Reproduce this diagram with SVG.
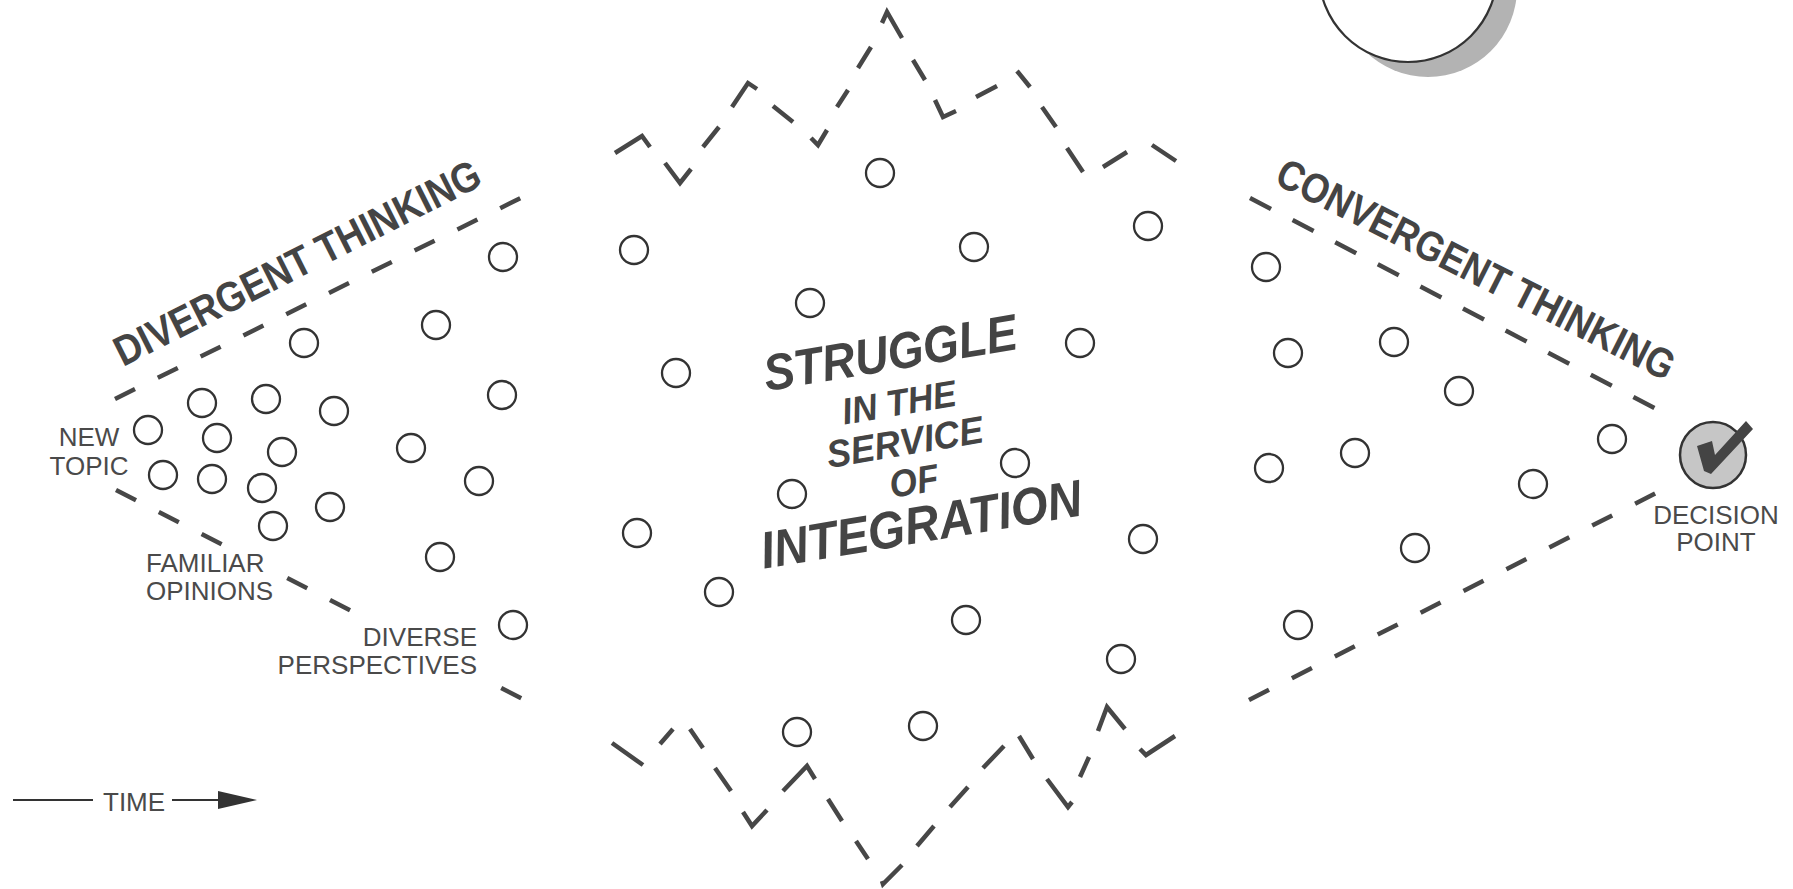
<svg xmlns="http://www.w3.org/2000/svg" width="1793" height="889" viewBox="0 0 1793 889">
<style>
.dash{fill:none;stroke:#474747;stroke-width:4.5;stroke-linecap:butt;stroke-linejoin:miter}
.idea{fill:none;stroke:#333;stroke-width:2.3}
.lbl{font-family:"Liberation Sans",Arial,Helvetica,sans-serif;font-size:26px;fill:#4a4a4a}
.big{font-family:"Liberation Sans",Arial,Helvetica,sans-serif;font-weight:bold;fill:#444}
.ctr{font-style:italic;text-anchor:middle}
</style>
<rect width="1793" height="889" fill="#fff"/>
<g id="moon">
<circle cx="1428" cy="-12" r="89" fill="#b3b3b3"/>
<circle cx="1408" cy="-27" r="89" fill="#fff" stroke="#333" stroke-width="2.2"/>
</g>
<g id="connectors">
<path id="divergent-upper" class="dash" d="M115,399L135,389.1M157.8,377.8L177.8,367.9M200.6,356.6L220.6,346.7M243.4,335.4L263.4,325.5M286.2,314.2L306.2,304.3M329,293L349,283.1M371.8,271.8L391.8,261.9M414.6,250.6L434.6,240.7M457.4,229.4L477.4,219.5M500.2,208.2L520.2,198.3"/>
<path id="divergent-lower" class="dash" d="M116,490L136,500.3M158.8,512L178.8,522.3M201.6,534L221.6,544.3M287.2,578L307.2,588.3M330,600L350,610.3M501.2,688L521.2,698.3"/>
<path id="convergent-upper" class="dash" d="M1250,198L1271,209M1292.6,220.1L1313.6,231.1M1335.2,242.2L1356.2,253.2M1377.8,264.3L1398.8,275.3M1420.4,286.4L1441.4,297.4M1463,308.5L1484,319.5M1505.6,330.6L1526.6,341.6M1548.2,352.7L1569.2,363.7M1590.8,374.8L1611.8,385.8M1633.4,396.9L1654.4,407.9"/>
<path id="convergent-lower" class="dash" d="M1249,700L1269,689.8M1291.9,678.2L1311.9,668M1334.8,656.4L1354.8,646.2M1377.7,634.6L1397.7,624.4M1420.6,612.8L1440.6,602.6M1463.5,591L1483.5,580.8M1506.4,569.2L1526.4,559M1549.3,547.4L1569.3,537.2M1592.2,525.6L1612.2,515.4M1635.1,503.8L1655.1,493.6"/>
<path id="struggle-top" class="dash" d="M615,153L642,136L650,147M665,163L680,183L691,169M703,147L719,127M732,107L748,83L757,89M773,106L793,122M811,138L818,145L827,130M837,107L848,90M858,68L871,47M882,23L887,12L902,38M913,60L925,80M935,100L943,117L956,111M976,97L997,86M1017,71L1030,87M1042,107L1056,127M1067,148L1083,172M1103,167L1127,152M1152,145L1176,161"/>
<path id="struggle-bottom" class="dash" d="M612,743L643,765M660,744L673,729M690,729L703,748M715,768L731,791M743,812L752,826L767,810M783,791L807,766L815,779M828,799L842,821M856,841L868,859M882,881L883,884L902,865M917,846L934,826M950,807L968,787M983,768L1004,746M1019,736L1033,759M1047,779L1068,807L1072,802M1080,777L1089,757M1098,731L1107,707L1125,729M1140,749L1146,755L1175,736"/>
</g>
<g id="ideas">
<circle class="idea" cx="148" cy="430" r="14"/>
<circle class="idea" cx="202" cy="403" r="14"/>
<circle class="idea" cx="266" cy="399" r="14"/>
<circle class="idea" cx="334" cy="411" r="14"/>
<circle class="idea" cx="217" cy="438" r="14"/>
<circle class="idea" cx="282" cy="452" r="14"/>
<circle class="idea" cx="163" cy="475" r="14"/>
<circle class="idea" cx="212" cy="479" r="14"/>
<circle class="idea" cx="262" cy="488" r="14"/>
<circle class="idea" cx="330" cy="507" r="14"/>
<circle class="idea" cx="273" cy="526" r="14"/>
<circle class="idea" cx="304" cy="343" r="14"/>
<circle class="idea" cx="436" cy="325" r="14"/>
<circle class="idea" cx="503" cy="257" r="14"/>
<circle class="idea" cx="502" cy="395" r="14"/>
<circle class="idea" cx="411" cy="448" r="14"/>
<circle class="idea" cx="479" cy="481" r="14"/>
<circle class="idea" cx="440" cy="557" r="14"/>
<circle class="idea" cx="513" cy="625" r="14"/>
<circle class="idea" cx="634" cy="250" r="14"/>
<circle class="idea" cx="880" cy="173" r="14"/>
<circle class="idea" cx="974" cy="247" r="14"/>
<circle class="idea" cx="1148" cy="226" r="14"/>
<circle class="idea" cx="810" cy="303" r="14"/>
<circle class="idea" cx="1080" cy="343" r="14"/>
<circle class="idea" cx="676" cy="373" r="14"/>
<circle class="idea" cx="1015" cy="463" r="14"/>
<circle class="idea" cx="792" cy="494" r="14"/>
<circle class="idea" cx="637" cy="533" r="14"/>
<circle class="idea" cx="1143" cy="539" r="14"/>
<circle class="idea" cx="719" cy="592" r="14"/>
<circle class="idea" cx="966" cy="620" r="14"/>
<circle class="idea" cx="1121" cy="659" r="14"/>
<circle class="idea" cx="797" cy="732" r="14"/>
<circle class="idea" cx="923" cy="726" r="14"/>
<circle class="idea" cx="1266" cy="267" r="14"/>
<circle class="idea" cx="1288" cy="353" r="14"/>
<circle class="idea" cx="1394" cy="342" r="14"/>
<circle class="idea" cx="1459" cy="391" r="14"/>
<circle class="idea" cx="1269" cy="468" r="14"/>
<circle class="idea" cx="1355" cy="453" r="14"/>
<circle class="idea" cx="1533" cy="484" r="14"/>
<circle class="idea" cx="1612" cy="439" r="14"/>
<circle class="idea" cx="1415" cy="548" r="14"/>
<circle class="idea" cx="1298" cy="625" r="14"/>
</g>
<g id="decision-point">
<circle cx="1713" cy="455" r="33" fill="#c6c6c6" stroke="#333" stroke-width="2.5"/>
<polygon points="1697,446 1712,441 1715,455 1746,421 1753,429 1711,474 1704,471" fill="#444"/>
<text class="lbl" x="1716" y="524" text-anchor="middle" font-size="24">DECISION</text>
<text class="lbl" x="1716" y="551" text-anchor="middle" font-size="24">POINT</text>
</g>
<g id="divergent-label">
<text class="big" font-size="42" x="123" y="367" textLength="405" lengthAdjust="spacingAndGlyphs" transform="rotate(-26.8 123 367)">DIVERGENT THINKING</text>
</g>
<g id="convergent-label">
<text class="big" font-size="42" x="1273" y="183" textLength="440" lengthAdjust="spacingAndGlyphs" transform="rotate(26.8 1273 183)">CONVERGENT THINKING</text>
</g>
<g id="struggle-label" class="big ctr">
<text font-size="51" x="893" y="370" textLength="256" lengthAdjust="spacingAndGlyphs" transform="rotate(-9.5 893 370)">STRUGGLE</text>
<text font-size="37" x="901" y="415" textLength="115" lengthAdjust="spacingAndGlyphs" transform="rotate(-9.5 901 415)">IN THE</text>
<text font-size="38" x="907" y="455" textLength="158" lengthAdjust="spacingAndGlyphs" transform="rotate(-9.5 907 455)">SERVICE</text>
<text font-size="38" x="916" y="494" textLength="49" lengthAdjust="spacingAndGlyphs" transform="rotate(-9.5 916 494)">OF</text>
<text font-size="52" x="924" y="542" textLength="325" lengthAdjust="spacingAndGlyphs" transform="rotate(-9.5 924 542)">INTEGRATION</text>
</g>
<g id="new-topic">
<text class="lbl" x="89" y="446" text-anchor="middle">NEW</text>
<text class="lbl" x="89" y="475" text-anchor="middle">TOPIC</text>
</g>
<g id="familiar-opinions">
<text class="lbl" x="146" y="572">FAMILIAR</text>
<text class="lbl" x="146" y="600">OPINIONS</text>
</g>
<g id="diverse-perspectives">
<text class="lbl" x="477" y="646" text-anchor="end">DIVERSE</text>
<text class="lbl" x="477" y="674" text-anchor="end">PERSPECTIVES</text>
</g>
<g id="time-axis">
<line x1="13" y1="800" x2="93" y2="800" stroke="#333" stroke-width="2.2"/>
<text class="lbl" x="103" y="811" font-size="25">TIME</text>
<line x1="172" y1="800" x2="222" y2="800" stroke="#333" stroke-width="2.2"/>
<polygon points="218,791 257,800 218,809" fill="#333"/>
</g>
</svg>
